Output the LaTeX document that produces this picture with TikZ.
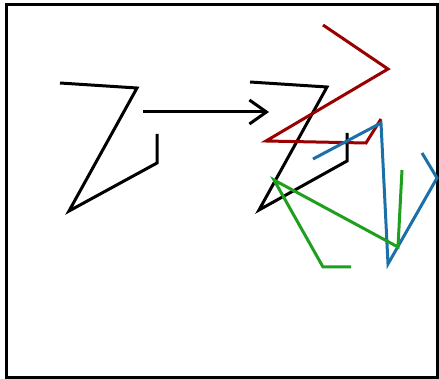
\documentclass[tikz,border=0pt]{standalone}
\usetikzlibrary{arrows.meta}
\definecolor{zred}{RGB}{155,0,0}
\definecolor{zblue}{RGB}{28,112,170}
\definecolor{zgreen}{RGB}{30,160,30}

\begin{document}
\begin{tikzpicture}[x=1pt,y=-1pt,line width=3pt,
    zline/.style={draw=#1,line join=miter},
    zline/.default=black]
  \useasboundingbox (0,0) rectangle (439,379);
  \draw[line width=3pt] (6,5) rectangle (437,377);
  % original shape and its shifted copy
  \draw[zline] (60,83) -- (137,88) -- (69,211) -- (157,163) -- (157,134);
  \draw[zline] (250,82) -- (327,87) -- (259,210) -- (347,161) -- (347,133);
  % the move between them
  \coordinate (from) at (143,112);
  \coordinate (to) at (269,112);
  \draw[-{Straight Barb[length=17pt,width=24pt]}] (from) -- (to);
  % rotated copies
  \draw[zline=zred] (323,25) -- (388,69) -- (266,141) -- (366,143) -- (381,119);
  \draw[zline=zblue] (313,159) -- (381,123) -- (388,264) -- (437,178) -- (422,153);
  \draw[zline=zgreen] (402,170) -- (398,247) -- (274,180) -- (323,267) -- (351,267);
\end{tikzpicture}
\end{document}
